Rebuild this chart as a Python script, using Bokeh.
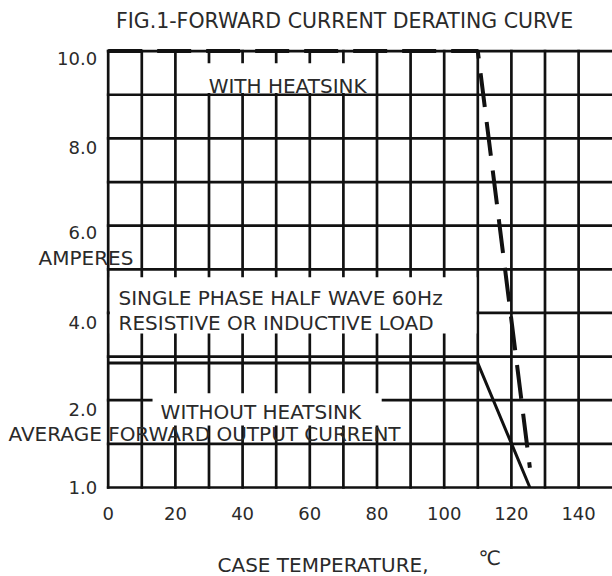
from bokeh.plotting import figure
from bokeh.models import Range1d, FixedTicker, Label
from bokeh.embed import file_html
from bokeh.resources import INLINE

# ---- data ----
temp_with_heatsink = [0, 110, 125.5]
current_with_heatsink = [10.0, 10.0, 0.45]
temp_without_heatsink = [0, 110, 125.5]
current_without_heatsink = [2.85, 2.85, 0.0]

x_tick_values = [0, 20, 40, 60, 80, 100, 120, 140]
y_tick_values = [0, 2, 4, 6, 8, 10]
y_tick_labels = ["1.0", "2.0", "4.0", "6.0", "8.0", "10.0"]
x_grid_values = [0, 10, 20, 30, 40, 50, 60, 70, 80, 90, 100, 110, 120, 130, 140]
y_grid_values = [0, 1, 2, 3, 4, 5, 6, 7, 8, 9, 10]

FONT = "DejaVu Sans"
TXT = "#2a2a2a"
INK = "#111111"

# the frame fills the whole canvas so the free texts around the grid are not clipped
X0, X1 = -32.05, 150.09
Y0, Y1 = -2.04, 11.16

p = figure(width=612, height=576, output_backend="svg", toolbar_location=None,
           x_range=Range1d(X0, X1), y_range=Range1d(Y0, Y1),
           min_border_left=0, min_border_right=0, min_border_top=0, min_border_bottom=0,
           background_fill_color="white", border_fill_color="white",
           outline_line_color=None)
p.xgrid.visible = False
p.ygrid.visible = False

# chart grid (drawn through the plot scales)
gx = x_grid_values
p.segment(x0=gx, x1=gx, y0=[0] * len(gx), y1=[10] * len(gx),
          line_color=INK, line_width=2.7, line_cap="square")
gy = y_grid_values
p.segment(x0=[0] * len(gy), x1=[X1 + 1] * len(gy), y0=gy, y1=gy,
          line_color=INK, line_width=2.7, line_cap="square")

# axes placed on the grid edges
label_drop = [0.01, 0.22, 0.21, 0.16, 0.21, 0.18]   # layout offsets, in axis units
y_label_pos = [v - d for v, d in zip(y_tick_values, label_drop)]
p.xaxis.fixed_location = 0
p.yaxis.fixed_location = 0
p.xaxis.ticker = FixedTicker(ticks=x_tick_values)
p.yaxis.ticker = FixedTicker(ticks=y_label_pos)
p.yaxis.major_label_overrides = {pos: s for pos, s in zip(y_label_pos, y_tick_labels)}
for ax in (p.xaxis, p.yaxis):
    ax.axis_line_color = None
    ax.major_tick_line_color = None
    ax.minor_tick_line_color = None
    ax.major_label_text_font = FONT
    ax.major_label_text_font_size = "18px"
    ax.major_label_text_color = TXT
p.xaxis.major_label_standoff = 14
p.yaxis.major_label_standoff = 5

# white boxes behind the annotations (cover the grid like in the original)
p.quad(left=[23, 0.5, 13.2], right=[78.7, 109.6, 81.4],
       bottom=[9.04, 3.53, 1.42], top=[9.72, 4.82, 2.16],
       fill_color="white", line_color=None)

# curves
p.line(temp_with_heatsink, current_with_heatsink, line_width=4, line_dash="34 15",
       line_color=INK)
p.line(temp_without_heatsink, current_without_heatsink, line_width=3, line_color=INK)

def add_label(text, x, y, align="left", size="20px"):
    p.add_layout(Label(x=x, y=y, text=text, text_font=FONT, text_font_size=size,
                       text_color=TXT, text_align=align, text_baseline="middle"))

add_label("FIG.1-FORWARD CURRENT DERATING CURVE", 70.33, 10.69, align="center", size="20.5px")
add_label("WITH HEATSINK", 53.4, 9.19, align="center")
add_label("SINGLE PHASE HALF WAVE 60Hz", 3.07, 4.35)
add_label("RESISTIVE OR INDUCTIVE LOAD", 3.07, 3.76)
add_label("WITHOUT HEATSINK", 15.6, 1.74)
add_label("AVERAGE FORWARD OUTPUT CURRENT", -29.67, 1.22)
add_label("AMPERES", -20.74, 5.25)
add_label("CASE TEMPERATURE,", 32.53, -1.77)
add_label("\u2103", 110.2, -1.61)

open("out.html", "w").write(file_html(p, INLINE))
